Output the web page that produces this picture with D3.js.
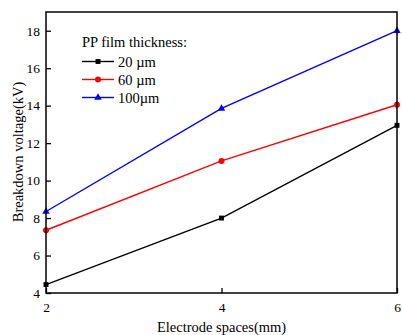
<!DOCTYPE html>
<html>
<head>
<meta charset="utf-8">
<script src="https://cdn.jsdelivr.net/npm/d3@7"></script>
<style>
body { margin: 0; background: #fff; }
text { font-family: "Liberation Serif", "Times New Roman", serif; }
</style>
</head>
<body>
<div id="chart"></div>
<script>
// data
var spaces = [2, 4, 6];
var v20 = [4.45, 8.0, 12.95];
var v60 = [7.35, 11.05, 14.05];
var v100 = [8.35, 13.85, 18.0];
var seriesNames = ["20 \u00b5m", "60 \u00b5m", "100\u00b5m"];
var xTicks = [2, 4, 6];
var yTicks = [4, 6, 8, 10, 12, 14, 16, 18];

var series = [
	{name: seriesNames[0], values: v20, color: "#000000", shape: d3.symbolSquare},
	{name: seriesNames[1], values: v60, color: "#ff0000", shape: d3.symbolCircle},
	{name: seriesNames[2], values: v100, color: "#0000ff", shape: d3.symbolTriangle}
];

var W = 402, H = 335;
var pLeft = 46, pRight = 397, pTop = 12, pBottom = 293;

var svg = d3.select("#chart").append("svg")
	.attr("width", W)
	.attr("height", H);

var x = d3.scaleLinear().domain([2, 6]).range([pLeft, pRight]);
var y = d3.scaleLinear().domain([4, 19]).range([pBottom, pTop]);

// axes
var xAxis = svg.append("g")
	.attr("transform", "translate(0," + pBottom + ")")
	.call(d3.axisBottom(x).tickValues(xTicks).tickFormat(d3.format("d"))
		.tickSizeInner(-5).tickSizeOuter(0).tickPadding(9));
var yAxis = svg.append("g")
	.attr("transform", "translate(" + pLeft + ",0)")
	.call(d3.axisLeft(y).tickValues(yTicks).tickFormat(d3.format("d"))
		.tickSizeInner(-5).tickSizeOuter(0).tickPadding(6));

[xAxis, yAxis].forEach(function(a){
	a.select(".domain").remove();
	a.selectAll("line").attr("stroke", "#000").attr("stroke-width", 1.3);
	a.selectAll("text").attr("font-size", 13.5).attr("fill", "#000")
		.style("font-family", "'Liberation Serif', serif");
});

// series lines
var line = d3.line()
	.x(function(d, i){ return x(spaces[i]); })
	.y(function(d){ return y(d); });

series.forEach(function(s){
	svg.append("path")
		.attr("d", line(s.values))
		.attr("fill", "none")
		.attr("stroke", s.color)
		.attr("stroke-width", 1.4);
	svg.selectAll(null).data(s.values).enter().append("path")
		.attr("d", d3.symbol().type(s.shape).size(s.shape === d3.symbolCircle ? 28 : 24))
		.attr("transform", function(d, i){ return "translate(" + x(spaces[i]) + "," + y(d) + ")"; })
		.attr("fill", s.color);
});

// frame
svg.append("rect")
	.attr("x", pLeft).attr("y", pTop)
	.attr("width", pRight - pLeft).attr("height", pBottom - pTop)
	.attr("fill", "none")
	.attr("stroke", "#000")
	.attr("stroke-width", 1.5);

// legend
var lg = svg.append("g").attr("transform", "translate(82,0)");
lg.append("text").attr("x", 0).attr("y", 47).attr("font-size", 14.5).text("PP film thickness:");
series.forEach(function(s, i){
	var yy = 61.5 + i * 18;
	lg.append("line").attr("x1", 0).attr("x2", 32).attr("y1", yy).attr("y2", yy)
		.attr("stroke", s.color).attr("stroke-width", 1.4);
	lg.append("path")
		.attr("d", d3.symbol().type(s.shape).size(s.shape === d3.symbolCircle ? 28 : 24))
		.attr("transform", "translate(16," + yy + ")")
		.attr("fill", s.color);
	lg.append("text").attr("x", 36).attr("y", yy + 5).attr("font-size", 14.5).text(s.name);
});

// axis titles
svg.append("text")
	.attr("x", 221.5).attr("y", 332)
	.attr("text-anchor", "middle")
	.attr("font-size", 14.5)
	.text("Electrode spaces(mm)");
svg.append("text")
	.attr("transform", "translate(22.5,152) rotate(-90)")
	.attr("text-anchor", "middle")
	.attr("font-size", 14.5)
	.text("Breakdown voltage(kV)");
</script>
</body>
</html>
